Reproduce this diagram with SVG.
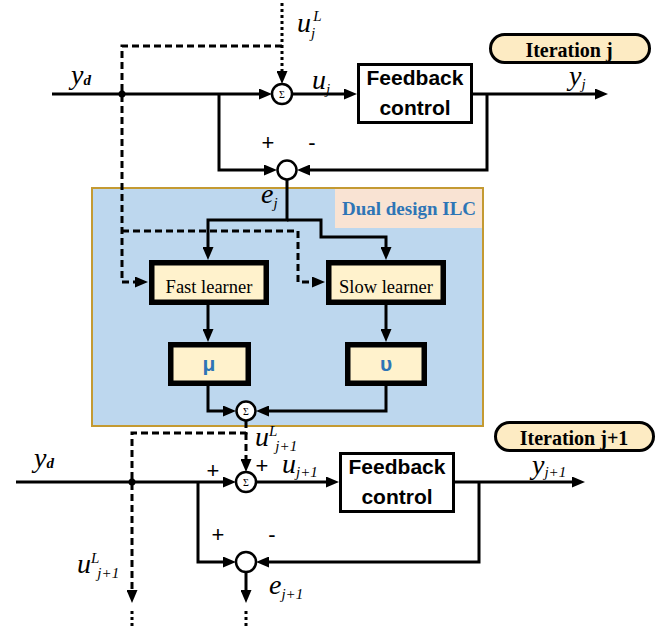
<svg xmlns="http://www.w3.org/2000/svg" width="671" height="633" viewBox="0 0 671 633">
  <style>
    .wire { fill: none; stroke: #000; stroke-width: 3; }
    .dash { fill: none; stroke: #000; stroke-width: 3; stroke-dasharray: 7 4; }
    .dot { fill: none; stroke: #000; stroke-width: 3; stroke-dasharray: 3 3; }
    .sum { fill: #fff; stroke: #000; stroke-width: 2.5; }
    .sigma { font-family: "Liberation Serif", serif; font-size: 10px; text-anchor: middle; }
    .fb { fill: #fff; stroke: #000; stroke-width: 3; }
    .fbt { font-family: "Liberation Sans", Arial, sans-serif; font-weight: bold; font-size: 21px; text-anchor: middle; }
    .learner { fill: #fff2cc; stroke: #000; stroke-width: 5.5; }
    .lt { font-family: "Liberation Serif", serif; font-size: 18.5px; text-anchor: middle; }
    .gain { font-family: "Liberation Sans", Arial, sans-serif; font-weight: bold; font-size: 21px; fill: #2e75b6; text-anchor: middle; }
    .pill { fill: #fdebc3; stroke: #000; stroke-width: 3; }
    .pt { font-family: "Liberation Serif", serif; font-weight: bold; font-size: 20px; text-anchor: middle; }
    .m { font-family: "Liberation Serif", serif; font-style: italic; font-size: 28px; }
    .s { font-size: 15px; }
    .sign { font-family: "Liberation Sans", Arial, sans-serif; font-size: 22px; text-anchor: middle; }
  </style>
  <defs>
    <marker id="arr" markerUnits="userSpaceOnUse" markerWidth="14" markerHeight="11" refX="3" refY="5.5" orient="auto">
      <path d="M0,0 L13,5.5 L0,11 z" fill="#000"/>
    </marker>
  </defs>

  <rect width="671" height="633" fill="#fff"/>

  <!-- ILC block background -->
  <g id="ilc">
    <rect x="92" y="188" width="391" height="238" fill="#bdd7ee" stroke="#c49a32" stroke-width="2"/>
    <rect x="335" y="189" width="147" height="39" fill="#f9e3d3"/>
    <text x="409" y="215" font-family="Liberation Serif, serif" font-weight="bold" font-size="19" fill="#2e75b6" text-anchor="middle">Dual design ILC</text>
  </g>

  <!-- connectors -->
  <g id="connectors">
    <!-- iteration j -->
    <path class="wire" d="M52 94 H262" marker-end="url(#arr)"/>
    <path class="wire" d="M292 94 H347" marker-end="url(#arr)"/>
    <path class="wire" d="M473 94 H598" marker-end="url(#arr)"/>
    <path class="wire" d="M487 94 V170 H307" marker-end="url(#arr)"/>
    <path class="wire" d="M219 94 V170 H267" marker-end="url(#arr)"/>
    <path class="wire" d="M287 179.5 V220 H208 V250" marker-end="url(#arr)"/>
    <path class="wire" d="M287 220 H321 V237 H386 V250" marker-end="url(#arr)"/>
    <path class="wire" d="M208 305 V332" marker-end="url(#arr)"/>
    <path class="wire" d="M386 305 V332" marker-end="url(#arr)"/>
    <path class="wire" d="M208 386 V411 H226" marker-end="url(#arr)"/>
    <path class="wire" d="M386 386 V411 H266" marker-end="url(#arr)"/>

    <path class="dot" d="M282 3 V74" marker-end="url(#arr)"/>
    <path class="dash" d="M282 46 H122 V282 H138" marker-end="url(#arr)"/>
    <path class="dash" d="M122 231 H298 V282 H315" marker-end="url(#arr)"/>

    <!-- iteration j+1 -->
    <path class="dash" d="M246 421 V433 H132 V593" marker-end="url(#arr)"/>
    <path class="dash" d="M246 433 V462" marker-end="url(#arr)"/>
    <path class="dot" d="M132 611 V628"/>
    <path class="wire" d="M16 482 H226" marker-end="url(#arr)"/>
    <path class="wire" d="M256 482 H329" marker-end="url(#arr)"/>
    <path class="wire" d="M455 482 H575" marker-end="url(#arr)"/>
    <path class="wire" d="M479 482 V562 H266" marker-end="url(#arr)"/>
    <path class="wire" d="M198 482 V562 H226" marker-end="url(#arr)"/>
    <path class="wire" d="M246 572 V593" marker-end="url(#arr)"/>
    <path class="dot" d="M246 611 V628"/>

    <circle cx="122" cy="94" r="3.5" fill="#000"/>
    <circle cx="132" cy="482" r="3.5" fill="#000"/>
  </g>

  <!-- summing junctions -->
  <g id="sum1"><circle class="sum" cx="282" cy="94" r="10"/><text class="sigma" x="282" y="97.5">Σ</text></g>
  <g id="sum2"><circle class="sum" cx="287" cy="170" r="9.5"/></g>
  <g id="sum3"><circle class="sum" cx="246" cy="411" r="9.5"/><text class="sigma" x="246" y="414.5">Σ</text></g>
  <g id="sum4"><circle class="sum" cx="246" cy="482" r="10"/><text class="sigma" x="246" y="485.5">Σ</text></g>
  <g id="sum5"><circle class="sum" cx="246" cy="562" r="10"/></g>

  <!-- plants -->
  <g id="feedback1">
    <rect class="fb" x="358.5" y="64.5" width="113" height="58"/>
    <text class="fbt" x="415" y="85">Feedback</text>
    <text class="fbt" x="415" y="115">control</text>
  </g>
  <g id="feedback2">
    <rect class="fb" x="340.5" y="453.5" width="113" height="58"/>
    <text class="fbt" x="397" y="474">Feedback</text>
    <text class="fbt" x="397" y="504">control</text>
  </g>

  <!-- learners and gains -->
  <g id="fast">
    <rect class="learner" x="151.75" y="262.75" width="114.5" height="39.5"/>
    <text class="lt" x="209" y="293">Fast learner</text>
  </g>
  <g id="slow">
    <rect class="learner" x="328.75" y="262.75" width="114.5" height="39.5"/>
    <text class="lt" x="386" y="293">Slow learner</text>
  </g>
  <g id="mu">
    <rect class="learner" x="170.75" y="344.75" width="77.5" height="38.5"/>
    <text class="gain" x="209" y="371">μ</text>
  </g>
  <g id="upsilon">
    <rect class="learner" x="347.75" y="344.75" width="76.5" height="38.5"/>
    <text class="gain" x="386" y="371">υ</text>
  </g>

  <!-- iteration tags -->
  <g id="iter-j">
    <rect class="pill" x="490.5" y="34.5" width="159" height="28" rx="14"/>
    <text class="pt" x="569" y="57">Iteration j</text>
  </g>
  <g id="iter-j1">
    <rect class="pill" x="495.5" y="422.5" width="158" height="28" rx="14"/>
    <text class="pt" x="574" y="445">Iteration j+1</text>
  </g>

  <!-- signal labels -->
  <g id="labels">
    <text class="m" x="71" y="84">y<tspan class="s" dy="1" font-weight="bold">d</tspan></text>
    <text class="m" x="297" y="32">u<tspan class="s" dy="6">j</tspan><tspan class="s" dx="-2" dy="-17">L</tspan></text>
    <text class="m" x="312" y="89">u<tspan class="s" dy="5">j</tspan></text>
    <text class="m" x="569" y="85">y<tspan class="s" dy="4">j</tspan></text>
    <text class="m" x="261" y="203">e<tspan class="s" dy="5">j</tspan></text>
    <text class="m" x="255" y="446">u<tspan class="s" dy="-10">L</tspan><tspan class="s" dx="-2" dy="15">j+1</tspan></text>
    <text class="m" x="282" y="473">u<tspan class="s" dy="4">j+1</tspan></text>
    <text class="m" x="34" y="467">y<tspan class="s" dy="1" font-weight="bold">d</tspan></text>
    <text class="m" x="532" y="474">y<tspan class="s" dy="3">j+1</tspan></text>
    <text class="m" x="77" y="573">u<tspan class="s" dy="-10">L</tspan><tspan class="s" dx="-2" dy="15">j+1</tspan></text>
    <text class="m" x="269" y="594">e<tspan class="s" dy="5">j+1</tspan></text>

    <text class="sign" x="268" y="150">+</text>
    <text class="sign" x="312" y="150">-</text>
    <text class="sign" x="213" y="478">+</text>
    <text class="sign" x="262" y="473">+</text>
    <text class="sign" x="218" y="542">+</text>
    <text class="sign" x="272" y="542">-</text>
  </g>
</svg>
